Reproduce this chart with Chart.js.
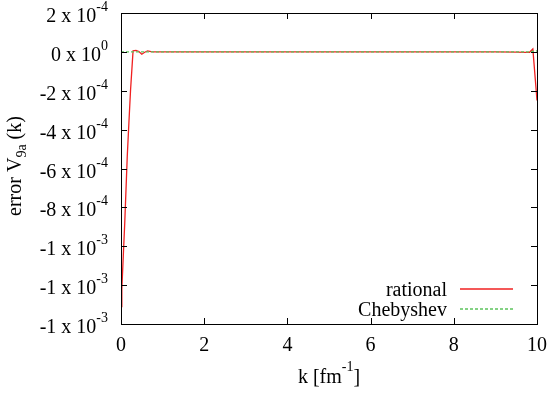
<!DOCTYPE html>
<html>
<head>
<meta charset="utf-8">
<script src="https://cdn.jsdelivr.net/npm/chart.js@4/dist/chart.umd.min.js"></script>
<style>
  html, body { margin: 0; padding: 0; background: #fff; }
</style>
</head>
<body>
<canvas id="errorChart" width="550" height="394"></canvas>
<script>
// momentum grid and error of the rational fit
const kRational = [0, 0.02, 0.055, 0.09, 0.12, 0.15, 0.19, 0.23, 0.29, 0.36, 0.43, 0.5, 0.57, 0.64, 0.72, 0.8,
                   1, 2, 3, 4, 5, 6, 7, 8, 9, 9.5, 9.75, 9.82, 9.9, 10];
const errRational = [-1.31e-3, -1.22e-3, -1.05e-3, -0.88e-3, -0.71e-3, -0.54e-3, -0.365e-3, -0.195e-3, 0.5e-5, 0.8e-5, 0.2e-5, -1.2e-5, -0.2e-5, 0.5e-5, 0.1e-5, 0,
                     0, 0, 0, 0, 0, 0, 0, 0, 0, -0.1e-5, -0.3e-5, -0.2e-5, 1.5e-5, -2.5e-4];

// error of the Chebyshev expansion
const kCheb = [0, 1, 2, 3, 4, 5, 6, 7, 8, 9, 9.8, 9.9, 10];
const errCheb = [0, 0, 0, 0, 0, 0, 0, 0, 0, 0, 0, 0.3e-5, 0.5e-5];

const seriesNames = ['rational', 'Chebyshev'];

// axis ticks
const xTickValues = [0, 2, 4, 6, 8, 10];
const yTickValues = [2e-4, 0, -2e-4, -4e-4, -6e-4, -8e-4, -1e-3, -1.2e-3, -1.4e-3];
const yTickMantissa = ['2', '0', '-2', '-4', '-6', '-8', '-1', '-1', '-1'];
const yTickExponent = ['-4', '0', '-4', '-4', '-4', '-4', '-3', '-3', '-3'];

const FONT = "'Liberation Serif', 'Times New Roman', serif";
const redColor = '#f02020';
const greenColor = '#5cc45c';

function toPoints(xs, ys) {
    return xs.map(function(x, i) { return { x: x, y: ys[i] }; });
}

// draw a run of text pieces (normal / super / subscript), left to right
function drawPieces(ctx, pieces, x, y, align) {
    let total = 0;
    pieces.forEach(function(p) {
        ctx.font = p.size + 'px ' + FONT;
        p.w = ctx.measureText(p.text).width;
        total += p.w;
    });
    let cx = x;
    if (align === 'right') cx = x - total;
    if (align === 'center') cx = x - total / 2;
    ctx.textAlign = 'left';
    ctx.textBaseline = 'alphabetic';
    pieces.forEach(function(p) {
        ctx.font = p.size + 'px ' + FONT;
        ctx.fillText(p.text, cx, y + (p.dy || 0));
        cx += p.w;
    });
}

// gnuplot style frame, inward ticks, labels and key
const gnuplotDecor = {
    id: 'gnuplotDecor',
    afterDraw(chart) {
        const ctx = chart.ctx;
        const area = chart.chartArea;
        const xs = chart.scales.x;
        const ys = chart.scales.y;
        const tickLen = 6;

        ctx.save();
        ctx.strokeStyle = '#000';
        ctx.lineWidth = 1;

        // ticks on all four sides
        ctx.beginPath();
        xTickValues.forEach(function(v) {
            const px = Math.round(xs.getPixelForValue(v)) + 0.5;
            ctx.moveTo(px, area.bottom);
            ctx.lineTo(px, area.bottom - tickLen);
            ctx.moveTo(px, area.top);
            ctx.lineTo(px, area.top + tickLen);
        });
        yTickValues.forEach(function(v) {
            const py = Math.round(ys.getPixelForValue(v)) + 0.5;
            ctx.moveTo(area.left, py);
            ctx.lineTo(area.left + tickLen, py);
            ctx.moveTo(area.right, py);
            ctx.lineTo(area.right - tickLen, py);
        });
        ctx.stroke();

        // frame
        ctx.strokeRect(Math.round(area.left) + 0.5, Math.round(area.top) + 0.5,
                       Math.round(area.right - area.left), Math.round(area.bottom - area.top));

        ctx.fillStyle = '#000';

        // y tick labels, "m x 10^e"
        yTickValues.forEach(function(v, i) {
            const py = ys.getPixelForValue(v);
            drawPieces(ctx, [
                { text: yTickMantissa[i] + ' x 10', size: 20 },
                { text: yTickExponent[i], size: 14, dy: -11 }
            ], area.left - 13, py + 9, 'right');
        });

        // x tick labels
        xTickValues.forEach(function(v) {
            drawPieces(ctx, [{ text: String(v), size: 20 }], xs.getPixelForValue(v), area.bottom + 27, 'center');
        });

        // x axis title
        drawPieces(ctx, [
            { text: 'k [fm', size: 20 },
            { text: '-1', size: 14, dy: -12 },
            { text: ']', size: 20 }
        ], (area.left + area.right) / 2, 383, 'center');

        // y axis title, rotated
        ctx.save();
        ctx.translate(21, 166);
        ctx.rotate(-Math.PI / 2);
        drawPieces(ctx, [
            { text: 'error V', size: 20 },
            { text: '9a', size: 14, dy: 5 },
            { text: ' (k)', size: 20 }
        ], 0, 0, 'center');
        ctx.restore();

        // key in the lower right corner
        const keyRows = [
            { y: 289, color: redColor, dash: [] },
            { y: 309, color: greenColor, dash: [3, 2] }
        ];
        keyRows.forEach(function(row, i) {
            drawPieces(ctx, [{ text: seriesNames[i], size: 20 }], 447, row.y + 7, 'right');
            ctx.beginPath();
            ctx.setLineDash(row.dash);
            ctx.strokeStyle = row.color;
            ctx.lineWidth = 1.3;
            ctx.moveTo(460, row.y);
            ctx.lineTo(513, row.y);
            ctx.stroke();
        });
        ctx.setLineDash([]);
        ctx.restore();
    }
};

new Chart(document.getElementById('errorChart'), {
    type: 'line',
    data: {
        datasets: [{
            label: seriesNames[0],
            data: toPoints(kRational, errRational),
            borderColor: redColor,
            borderWidth: 1.3,
            pointRadius: 0,
            tension: 0,
            order: 2
        }, {
            label: seriesNames[1],
            data: toPoints(kCheb, errCheb),
            borderColor: greenColor,
            borderWidth: 1.3,
            borderDash: [3, 2],
            pointRadius: 0,
            tension: 0,
            order: 1
        }]
    },
    options: {
        responsive: false,
        animation: false,
        events: [],
        layout: {
            padding: { left: 121, top: 13, right: 13, bottom: 70 }
        },
        scales: {
            x: { type: 'linear', min: 0, max: 10, display: false },
            y: { type: 'linear', min: -1.4e-3, max: 2e-4, display: false }
        },
        plugins: {
            legend: { display: false },
            tooltip: { enabled: false }
        }
    },
    plugins: [gnuplotDecor]
});
</script>
</body>
</html>
